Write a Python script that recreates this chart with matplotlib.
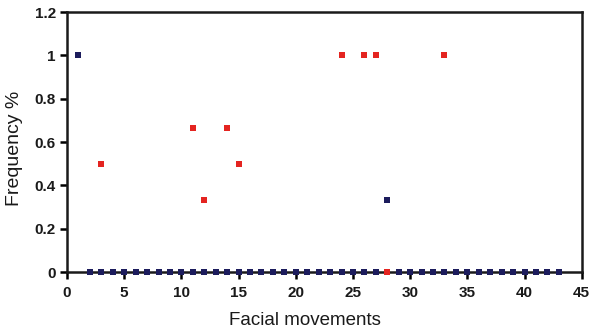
import numpy as np
import matplotlib.pyplot as plt

# Werte
x_blue = list(range(1, 44))
y_blue = [0.0] * 43
y_blue[0] = 1.0        # x = 1
y_blue[27] = 0.333     # x = 28

x_red = [3, 11, 12, 14, 15, 24, 26, 27, 28, 33]
y_red = [0.5, 0.667, 0.333, 0.667, 0.5, 1.0, 1.0, 1.0, 0.0, 1.0]

y_ticks = [0, 0.2, 0.4, 0.6, 0.8, 1, 1.2]
y_tick_labels = ["0", "0.2", "0.4", "0.6", "0.8", "1", "1.2"]
x_ticks = [0, 5, 10, 15, 20, 25, 30, 35, 40, 45]

plt.rcParams['font.family'] = ['Liberation Sans', 'DejaVu Sans']

fig = plt.figure(figsize=(5.93, 3.35), dpi=100)
ax = fig.add_axes([0.113, 0.188, 0.868, 0.776])

ax.plot(x_blue, y_blue, 's', color='#1c1c5c', markersize=4.8,
        markeredgewidth=0, clip_on=False, zorder=3)
ax.plot(x_red, y_red, 's', color='#e42420', markersize=4.8,
        markeredgewidth=0, clip_on=False, zorder=4)

ax.set_xlim(0, 45)
ax.set_ylim(0, 1.2)
ax.set_xticks(x_ticks)
ax.set_yticks(y_ticks)
ax.set_yticklabels(y_tick_labels)

for s in ax.spines.values():
    s.set_linewidth(1.8)
    s.set_color('#1a1a1a')

ax.tick_params(direction='out', length=5, width=1.8, labelsize=11)
ax.tick_params(axis='x', pad=5)
ax.tick_params(axis='y', pad=3)
for lab in ax.get_xticklabels() + ax.get_yticklabels():
    lab.set_fontweight('bold')
    lab.set_color('#1a1a1a')

ax.set_xlabel('Facial movements', fontsize=13.5, color='#1a1a1a')
ax.set_ylabel('Frequency %', fontsize=14, color='#1a1a1a')
ax.xaxis.set_label_coords(0.462, -0.155)
ax.yaxis.set_label_coords(-0.086, 0.475)

fig.savefig('out.png', dpi=100)
